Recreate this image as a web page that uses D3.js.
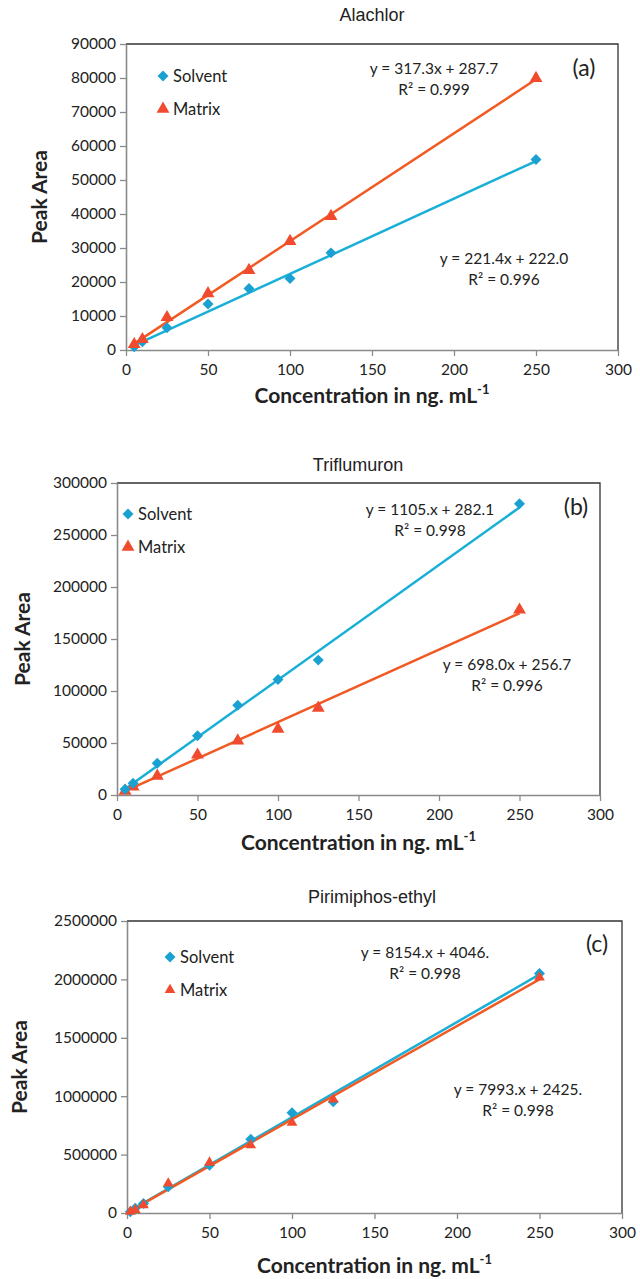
<!DOCTYPE html>
<html>
<head>
<meta charset="utf-8">
<script src="https://cdn.jsdelivr.net/npm/d3@7/dist/d3.min.js"></script>
<style>
  body { margin: 0; background: #fff; }
  svg { display: block; }
  text { fill: #222; }
</style>
</head>
<body>
<svg id="fig" width="640" height="1279"></svg>
<script>
//
// Data
//
var concAB = [5, 10, 25, 50, 75, 100, 125, 250];
var concC = [2, 5, 10, 25, 50, 75, 100, 125, 250];

var alachlorSolvent = [980, 2450, 6560, 13500, 18100, 21040, 28570, 56000];
var alachlorMatrix = [1660, 3130, 9590, 16630, 23480, 32000, 39330, 79940];

var triflumuronSolvent = [5470, 11260, 30600, 57000, 86260, 111000, 129700, 280000];
var triflumuronMatrix = [3900, 8000, 18300, 38600, 52100, 63400, 83700, 178000];

var pirimiphosSolvent = [11000, 40000, 82000, 224000, 409000, 631000, 858000, 952000, 2051000];
var pirimiphosMatrix = [11000, 26000, 68000, 253000, 432000, 580000, 773000, 972000, 2017000];

// trend lines [slope, intercept]
var fitA = { solvent: [221.4, 222.0], matrix: [317.3, 287.7] };
var fitB = { solvent: [1105, 282.1], matrix: [698.0, 256.7] };
var fitC = { solvent: [8154, 4046], matrix: [7993, 2425] };

var xTicks = [0, 50, 100, 150, 200, 250, 300];
var yTicksA = d3.range(0, 90001, 10000);
var yTicksB = d3.range(0, 300001, 50000);
var yTicksC = d3.range(0, 2500001, 500000);

var blue = "#1BA1D1", blueLine = "#19AFD6";
var red = "#F04B2E", redLine = "#F15A22";
var axisGrey = "#8a8a8a";
var font = "Lato, Open Sans";

var svg = d3.select("#fig");

function drawPanel(p) {
  var x = d3.scaleLinear().domain([0, 300]).range([p.left, p.right]);
  var y = d3.scaleLinear().domain([0, p.ymax]).range([p.bottom, p.top]);
  var g = svg.append("g");

  // title
  g.append("text")
    .attr("x", p.titleX).attr("y", p.titleY)
    .attr("text-anchor", "middle")
    .style("font-family", "Liberation Sans, Arial")
    .style("font-size", "18px")
    .text(p.title);

  // top/right frame
  g.append("path")
    .attr("d", "M" + p.left + "," + p.top + "H" + p.right + "V" + p.bottom)
    .attr("fill", "none").attr("stroke", "#333").attr("stroke-width", 1.3);

  var xAxis = g.append("g")
    .attr("transform", "translate(0," + p.bottom + ")")
    .call(d3.axisBottom(x).tickValues(xTicks).tickSize(6).tickSizeOuter(0));
  var yAxis = g.append("g")
    .attr("transform", "translate(" + p.left + ",0)")
    .call(d3.axisLeft(y).tickValues(p.yTicks).tickSize(6).tickSizeOuter(0).tickFormat(d3.format("d")));

  [xAxis, yAxis].forEach(function (a) {
    a.select(".domain").attr("stroke", axisGrey).attr("stroke-width", 1.6);
    a.selectAll(".tick line").attr("stroke", axisGrey).attr("stroke-width", 1.3);
    a.selectAll(".tick text")
      .style("font-family", font)
      .style("font-size", "15.5px")
      .attr("fill", "#222");
  });
  xAxis.selectAll(".tick text").attr("dy", "1.05em");
  yAxis.selectAll(".tick text").attr("x", -10);

  // axis titles
  g.append("text")
    .attr("transform", "translate(" + p.yTitleX + "," + ((p.top + p.bottom) / 2) + ") rotate(-90)")
    .attr("text-anchor", "middle")
    .style("font-family", font)
    .style("font-weight", "bold")
    .style("font-size", "21px")
    .text("Peak Area");

  var xt = g.append("text")
    .attr("x", (p.left + p.right) / 2).attr("y", p.xTitleY)
    .attr("text-anchor", "middle")
    .style("font-family", font)
    .style("font-weight", "bold")
    .style("font-size", "21px");
  xt.append("tspan").text("Concentration in ng. mL");
  xt.append("tspan").attr("dy", -9).style("font-size", "13px").text("-1");

  // trend lines
  var x0 = d3.min(p.conc), x1 = d3.max(p.conc);
  [[p.fit.solvent, blueLine], [p.fit.matrix, redLine]].forEach(function (f) {
    g.append("line")
      .attr("x1", x(x0)).attr("y1", y(f[0][0] * x0 + f[0][1]))
      .attr("x2", x(x1)).attr("y2", y(f[0][0] * x1 + f[0][1]))
      .attr("stroke", f[1]).attr("stroke-width", 2.5);
  });

  var diamond = d3.symbol(d3.symbolSquare, 60);
  var tri = d3.symbol(d3.symbolTriangle, p.triSize || 72);

  var sDots = g.selectAll(".solvent")
    .data(p.conc.map(function (c, i) { return [c, p.solvent[i]]; }))
    .enter().append("path")
    .attr("transform", function (d) { return "translate(" + x(d[0]) + "," + y(d[1]) + ") rotate(45)"; })
    .attr("d", diamond).attr("fill", blue);

  g.selectAll(".matrix")
    .data(p.conc.map(function (c, i) { return [c, p.matrix[i]]; }))
    .enter().append("path")
    .attr("transform", function (d) { return "translate(" + x(d[0]) + "," + y(d[1]) + ")"; })
    .attr("d", tri).attr("fill", red);

  if (p.solventOnTop) sDots.raise();

  // legend
  var lg = g.append("g").attr("transform", "translate(" + p.legX + "," + p.legY + ")");
  lg.append("path").attr("transform", "rotate(45)").attr("d", diamond).attr("fill", blue);
  lg.append("path").attr("transform", "translate(0,33)").attr("d", tri).attr("fill", red);
  ["Solvent", "Matrix"].forEach(function (t, i) {
    lg.append("text").attr("x", 10).attr("y", i * 33 + 6)
      .style("font-family", font).style("font-size", "16.5px").text(t);
  });

  // equations
  p.eqs.forEach(function (e) {
    var t = g.append("text").attr("text-anchor", "middle")
      .style("font-family", font).style("font-size", "15.5px");
    t.append("tspan").attr("x", e.x).attr("y", e.y).text(e.line1);
    t.append("tspan").attr("x", e.x).attr("y", e.y + 21).text(e.line2);
  });

  g.append("text").attr("x", p.tagX).attr("y", p.tagY)
    .attr("text-anchor", "middle")
    .style("font-family", font).style("font-size", "23px")
    .text(p.tag);
}

drawPanel({
  title: "Alachlor", titleX: 372, titleY: 21,
  left: 126, right: 618, top: 44, bottom: 350, ymax: 90000, yTicks: yTicksA,
  yTitleX: 47, xTitleY: 403,
  conc: concAB, solvent: alachlorSolvent, matrix: alachlorMatrix, fit: fitA,
  legX: 163, legY: 76,
  eqs: [
    { x: 434, y: 74, line1: "y = 317.3x + 287.7", line2: "R² = 0.999" },
    { x: 504, y: 264, line1: "y = 221.4x + 222.0", line2: "R² = 0.996" }
  ],
  tag: "(a)", tagX: 584, tagY: 76
});

drawPanel({
  title: "Triflumuron", titleX: 358, titleY: 471,
  left: 117, right: 600, top: 483, bottom: 795, ymax: 300000, yTicks: yTicksB,
  yTitleX: 30, xTitleY: 850,
  conc: concAB, solvent: triflumuronSolvent, matrix: triflumuronMatrix, fit: fitB,
  legX: 128, legY: 514, solventOnTop: true,
  eqs: [
    { x: 430, y: 515, line1: "y = 1105.x + 282.1", line2: "R² = 0.998" },
    { x: 507, y: 670, line1: "y = 698.0x + 256.7", line2: "R² = 0.996" }
  ],
  tag: "(b)", tagX: 576, tagY: 515
});

drawPanel({
  title: "Pirimiphos-ethyl", titleX: 372, titleY: 903,
  left: 127, right: 622, top: 921, bottom: 1213, ymax: 2500000, yTicks: yTicksC,
  yTitleX: 27, xTitleY: 1273,
  conc: concC, solvent: pirimiphosSolvent, matrix: pirimiphosMatrix, fit: fitC,
  legX: 170, legY: 957, triSize: 50,
  eqs: [
    { x: 425, y: 958, line1: "y = 8154.x + 4046.", line2: "R² = 0.998" },
    { x: 518, y: 1095, line1: "y = 7993.x + 2425.", line2: "R² = 0.998" }
  ],
  tag: "(c)", tagX: 597, tagY: 952
});
</script>
</body>
</html>
